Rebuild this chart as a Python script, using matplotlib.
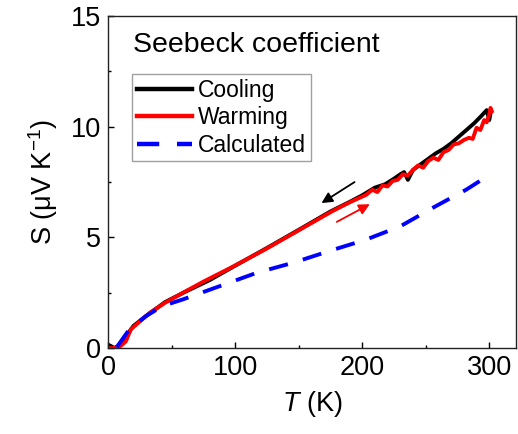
import numpy as np
import matplotlib
matplotlib.use("Agg")
import matplotlib.pyplot as plt

plt.rcParams['font.family'] = ['Liberation Sans', 'DejaVu Sans']
plt.rcParams['mathtext.fontset'] = 'custom'
plt.rcParams['mathtext.rm'] = 'Liberation Sans'
plt.rcParams['mathtext.it'] = 'Liberation Sans:italic'

# cooling run
t_cool = [0, 2, 5, 10, 15, 20, 30, 45, 60, 80, 100, 125, 150, 175, 190, 200, 210, 218, 225,
          230, 233, 236, 240, 246, 252, 258, 264, 270, 276, 282, 288, 294, 298, 300, 301]
s_cool = [0.15, 0.1, 0.0, 0.15, 0.6, 1.0, 1.45, 2.08, 2.52, 3.07, 3.72, 4.52, 5.34, 6.17, 6.6,
          6.9, 7.25, 7.4, 7.65, 7.85, 7.95, 7.6, 8.05, 8.3, 8.55, 8.8, 9.0, 9.25, 9.55, 9.85,
          10.15, 10.5, 10.75, 10.3, 10.6]

# warming run
t_warm = [0, 4, 8, 10, 14, 18, 25, 33, 45, 59, 75, 99, 125, 151, 177, 190, 203, 208, 212,
          216, 220, 224, 228, 232, 236, 240, 244, 248, 252, 256, 260, 264, 268, 272, 276,
          280, 284, 287, 290, 293, 296, 298, 300, 301, 302]
s_warm = [0, 0, 0.05, 0.1, 0.3, 0.85, 1.2, 1.6, 2.05, 2.5, 3.0, 3.7, 4.5, 5.35, 6.2, 6.58,
          6.92, 7.15, 7.05, 7.35, 7.3, 7.55, 7.6, 7.85, 7.8, 8.05, 8.25, 8.15, 8.45, 8.6,
          8.5, 8.85, 8.95, 9.2, 9.25, 9.4, 9.5, 9.45, 9.95, 9.85, 10.3, 10.2, 10.55, 10.85, 10.7]

# calculated
t_calc = [7, 17, 30, 43, 59, 88, 117, 146, 175, 203, 230, 256, 282, 294]
s_calc = [0.05, 0.86, 1.45, 1.9, 2.2, 2.8, 3.4, 3.86, 4.4, 4.9, 5.5, 6.35, 7.16, 7.6]

fig = plt.figure(figsize=(5.18, 4.34), dpi=100)
ax = fig.add_axes([0.2085, 0.198, 0.7875, 0.765])

ax.plot(t_cool, s_cool, color='black', lw=2.8, label='Cooling')
ax.plot(t_warm, s_warm, color='red', lw=2.8, label='Warming')
ax.plot(t_calc, s_calc, color='blue', lw=2.8, ls=(0, (5, 4)), label='Calculated')

ax.annotate('', xy=(168, 6.55), xytext=(194, 7.5),
            arrowprops=dict(arrowstyle='-|>', color='black', lw=1.3, mutation_scale=16,
                            shrinkA=0, shrinkB=0))
ax.annotate('', xy=(206, 6.5), xytext=(180, 5.7),
            arrowprops=dict(arrowstyle='-|>', color='red', lw=1.3, mutation_scale=16,
                            shrinkA=0, shrinkB=0))

ax.set_xlim(0, 321)
ax.set_ylim(0, 15)
ax.set_xticks([0, 100, 200, 300])
ax.set_xticks([50, 150, 250], minor=True)
ax.set_yticks([0, 5, 10, 15])
ax.set_yticks([2.5, 7.5, 12.5], minor=True)
ax.tick_params(which='both', direction='in', top=False, right=False, labelsize=19.5, pad=5)
ax.tick_params(which='major', length=4, width=1)
ax.tick_params(which='minor', length=2.5, width=1)
for sp in ax.spines.values():
    sp.set_linewidth(1)
    sp.set_color('#222222')

ax.set_xlabel('$T$ (K)', fontsize=19.5, labelpad=6)
ax.set_ylabel('S (μV K$^{\\mathrm{-1}}$)', fontsize=19.5, labelpad=8)

ax.text(0.061, 0.913, 'Seebeck coefficient', transform=ax.transAxes,
        fontsize=20.5, va='center', ha='left')

leg = ax.legend(loc='upper left', bbox_to_anchor=(0.059, 0.825), borderaxespad=0,
                fontsize=16.5, frameon=True, fancybox=False, handlelength=2.4,
                handletextpad=0.28, labelspacing=0.2, borderpad=0.2)
leg.get_frame().set_edgecolor('#888888')
leg.get_frame().set_linewidth(1)
for ln in leg.get_lines():
    ln.set_linewidth(3.2)

fig.savefig('out.png', dpi=100)
